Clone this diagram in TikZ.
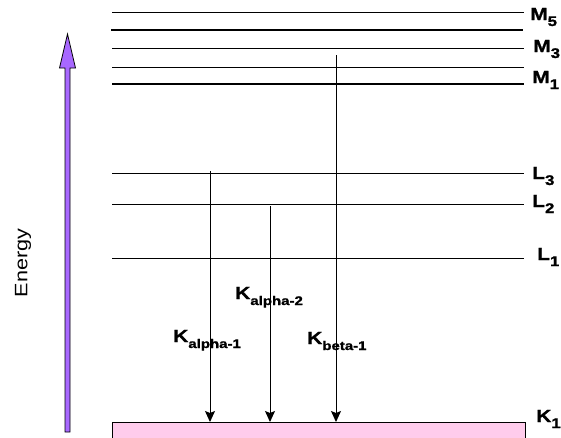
\documentclass[tikz,border=0pt]{standalone}
\usepackage{fontspec}
\setmainfont{Liberation Sans}
\newfontfamily\lblfont[FakeStretch=1.2, BoldFeatures={FakeBold=1.2}]{Liberation Sans}
\usetikzlibrary{arrows.meta}
\definecolor{shellpink}{RGB}{255,204,236}
\definecolor{axispurple}{RGB}{168,104,255}
\tikzset{level/.style={line width=0.9pt},
    strong level/.style={line width=1.8pt},
    shell label/.style={anchor=base west, inner sep=0pt,
        font=\lblfont\bfseries\fontsize{17.5}{17.5}\selectfont},
    transition/.style={line width=1pt,
        -{Stealth[length=11pt,width=10pt,inset=2pt]}},
    }
% letter with a lowered, smaller index
\newcommand{\shell}[2]{#1\raisebox{-6pt}{\fontsize{14}{14}\selectfont #2}}
\newcommand{\xline}[2]{#1\raisebox{-6pt}{\fontsize{12.5}{12.5}\selectfont #2}}

\begin{document}
\begin{tikzpicture}[x=1pt,y=-1pt]
	\useasboundingbox (0,0) rectangle (561,437);
	\clip (0,0) rectangle (561,437);
	% energy axis
	\draw[fill=axispurple, line width=0.8pt] (65,432) -- (65,68) -- (59.5,68)
		-- (67.5,34) -- (75.5,68) -- (70,68) -- (70,432) -- cycle;
	\node[rotate=90, inner sep=0pt, font=\lblfont\fontsize{18}{18}\selectfont]
		(energy) at (23,263) {Energy};
	% shells
	\foreach \y in {12,48,67,173,204,258}
		\draw[level] (112,\y) -- (524,\y);
	\draw[strong level] (111,30) -- (523,30);
	\draw[strong level] (112,84) -- (524,84);
	\node[draw, line width=1pt, fill=shellpink, minimum width=413pt,
		minimum height=30pt, anchor=north west] (kshell) at (112,422) {};
	\node[shell label] (m5) at (530,20) {\shell{M}{5}};
	\node[shell label] (m3) at (533,52) {\shell{M}{3}};
	\node[shell label] (m1) at (532,83) {\shell{M}{1}};
	\node[shell label] (l3) at (532,179) {\shell{L}{3}};
	\node[shell label] (l2) at (532,207) {\shell{L}{2}};
	\node[shell label] (l1) at (537,260) {\shell{L}{1}};
	\node[shell label] (k1) at (536,422) {\shell{K}{1}};
	% transitions
	\coordinate (ka1) at (210,171);
	\coordinate (ka2) at (270,206);
	\coordinate (kb1) at (336,55);
	\draw[transition] (ka1) -- (ka1 |- kshell.north);
	\draw[transition] (ka2) -- (ka2 |- kshell.north);
	\draw[transition] (kb1) -- (kb1 |- kshell.north);
	\node[shell label] (ka2lbl) at (235,299) {\xline{K}{alpha-2}};
	\node[shell label] (ka1lbl) at (173,342) {\xline{K}{alpha-1}};
	\node[shell label] (kb1lbl) at (307,344) {\xline{K}{beta-1}};
\end{tikzpicture}
\end{document}
